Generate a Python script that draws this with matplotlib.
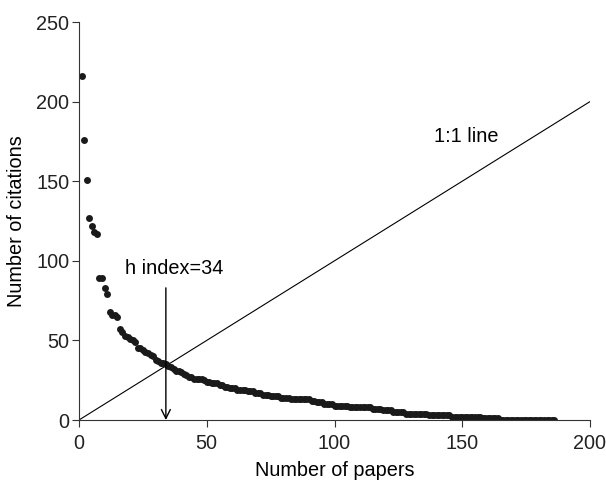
import numpy as np
import matplotlib
matplotlib.use("Agg")
import matplotlib.pyplot as plt

plt.rcParams['font.family'] = ['Liberation Sans', 'DejaVu Sans']

# Citation counts (descending) as run-length data: value and number of papers
citation_values = [216, 176, 151, 127, 122, 118, 117, 89, 83, 79, 68, 66, 65, 57, 55,
                   53, 52, 51, 50, 49, 45, 44, 43, 42, 41, 40, 38, 37, 36, 35,
                   34, 33, 32, 31, 30, 29, 28, 27, 26, 25, 24, 23, 22, 21, 20, 19,
                   18, 17, 16, 15, 14, 13, 12, 11, 10, 9, 8, 7, 6, 5, 4, 3, 2, 1, 0]
paper_counts = [1, 1, 1, 1, 1, 1, 1, 2, 1, 1, 1, 2, 1, 1, 1,
                1, 1, 1, 1, 1, 2, 1, 1, 1, 1, 1, 1, 1, 2, 1,
                1, 1, 1, 2, 1, 1, 1, 2, 4, 1, 2, 3, 2, 2, 3, 4,
                3, 3, 3, 4, 4, 8, 2, 3, 4, 6, 9, 4, 4, 5, 9, 9, 12, 7, 22]

citations = np.repeat(citation_values, paper_counts)
papers = np.arange(1, len(citations) + 1)

h_index = 34
line_x = [0, 200]
line_y = [0, 200]
x_ticks = [0, 50, 100, 150, 200]
y_ticks = [0, 50, 100, 150, 200, 250]

FS = 14.3

fig = plt.figure(figsize=(6.06, 4.82), dpi=100)
ax = fig.add_axes([79/606, 1 - 420/482, (590-79)/606, (420-22)/482])

ax.plot(line_x, line_y, color='black', lw=0.8)
ax.plot(papers, citations, 'o', color='#1a1a1a', markersize=5.0, markeredgewidth=0)

ax.annotate('', xy=(h_index, 0), xytext=(h_index, 83),
            arrowprops=dict(arrowstyle='->', color='black', lw=1.0,
                            mutation_scale=16, shrinkA=0, shrinkB=0))
ax.text(18, 89, 'h index=34', fontsize=FS, ha='left', va='bottom')
ax.text(139, 172, '1:1 line', fontsize=FS, ha='left', va='bottom')

ax.set_xlim(0, 200)
ax.set_ylim(0, 250)
ax.set_xticks(x_ticks)
ax.set_yticks(y_ticks)
for s in ['top', 'right']:
    ax.spines[s].set_visible(False)
for s in ['left', 'bottom']:
    ax.spines[s].set_linewidth(0.8)
    ax.spines[s].set_color('#333333')
ax.tick_params(direction='out', length=5, width=0.8, labelsize=FS, color='#333333')
ax.tick_params(axis='x', pad=5)
ax.tick_params(axis='y', pad=2)
ax.set_xlabel('Number of papers', fontsize=FS, labelpad=6)
ax.set_ylabel('Number of citations', fontsize=FS, labelpad=7)
for lbl in ax.get_xticklabels() + ax.get_yticklabels():
    lbl.set_color('#222222')

fig.savefig('out.png', dpi=100)
